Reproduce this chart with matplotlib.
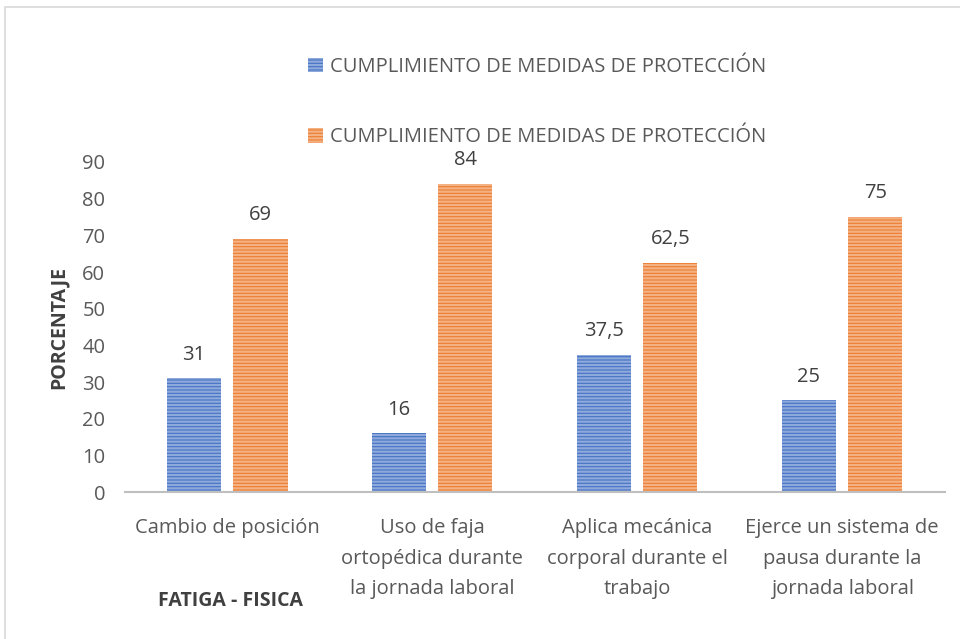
import matplotlib.pyplot as plt
import matplotlib.patches as mpatches
import numpy as np

# chart data
categorias = [
    "Cambio de posición",
    "Uso de faja\nortopédica durante\nla jornada laboral",
    "Aplica mecánica\ncorporal durante el\ntrabajo",
    "Ejerce un sistema de\npausa durante la\njornada laboral",
]
serie_azul = [31, 16, 37.5, 25]
serie_naranja = [69, 84, 62.5, 75]
etiquetas_azul = ["31", "16", "37,5", "25"]
etiquetas_naranja = ["69", "84", "62,5", "75"]
nombre_serie = "CUMPLIMIENTO DE MEDIDAS DE PROTECCIÓN"

plt.rcParams["font.family"] = ["Open Sans", "DejaVu Sans"]
plt.rcParams["hatch.linewidth"] = 1.6

fs = 14.5

fig = plt.figure(figsize=(9.6, 6.39), dpi=100)
ax = fig.add_axes([0.130, 0.230, 0.854, 0.5165])

# outer frame of the chart
fig.patches.append(mpatches.Rectangle((0.005, -0.1), 1.2, 1.089, transform=fig.transFigure,
                                      fill=False, edgecolor="#d9d9d9", linewidth=1.2))

x = np.arange(len(categorias))
ancho = 0.264
sep = 0.03

b1 = ax.bar(x - ancho / 2 - sep, serie_azul, ancho, color="#4472C4", edgecolor="#8EA9DB",
            linewidth=0, hatch="-----", label=nombre_serie)
b2 = ax.bar(x + ancho / 2 + sep, serie_naranja, ancho, color="#ED7D31", edgecolor="#F4B183",
            linewidth=0, hatch="-----", label=nombre_serie)

for barras, etiquetas in [(b1, etiquetas_azul), (b2, etiquetas_naranja)]:
    for barra, et in zip(barras, etiquetas):
        ax.text(barra.get_x() + barra.get_width() / 2, barra.get_height() + 3.7, et,
                ha="center", va="bottom", fontsize=fs, color="#404040")

ax.set_xlim(-0.5, len(categorias) - 0.5)
ax.set_ylim(0, 90)
ax.set_yticks(range(0, 91, 10))
ax.set_xticks(x)
ax.set_xticklabels(categorias, linespacing=1.68)
ax.tick_params(axis="both", length=0, labelsize=fs, labelcolor="#595959")
ax.tick_params(axis="y", pad=14)
ax.tick_params(axis="x", pad=19)
for lbl in ax.get_xticklabels():
    lbl.set_verticalalignment("top")

for s in ["top", "right", "left"]:
    ax.spines[s].set_visible(False)
ax.spines["bottom"].set_color("#bfbfbf")
ax.spines["bottom"].set_linewidth(1.5)

fig.text(0.061, 0.487, "PORCENTAJE", rotation=90, ha="center", va="center",
         fontsize=14, fontweight="bold", color="#404040")
fig.text(0.24, 0.060, "FATIGA - FISICA", ha="center", va="center",
         fontsize=14, fontweight="bold", color="#404040")

leg = ax.legend(loc="lower left", bbox_to_anchor=(0.2135, 1.02), frameon=False,
                fontsize=fs, labelspacing=2.5, handlelength=0.75, handleheight=0.75,
                handletextpad=0.35, borderaxespad=0)
for t in leg.get_texts():
    t.set_color("#595959")

fig.savefig("out.png", dpi=100)
